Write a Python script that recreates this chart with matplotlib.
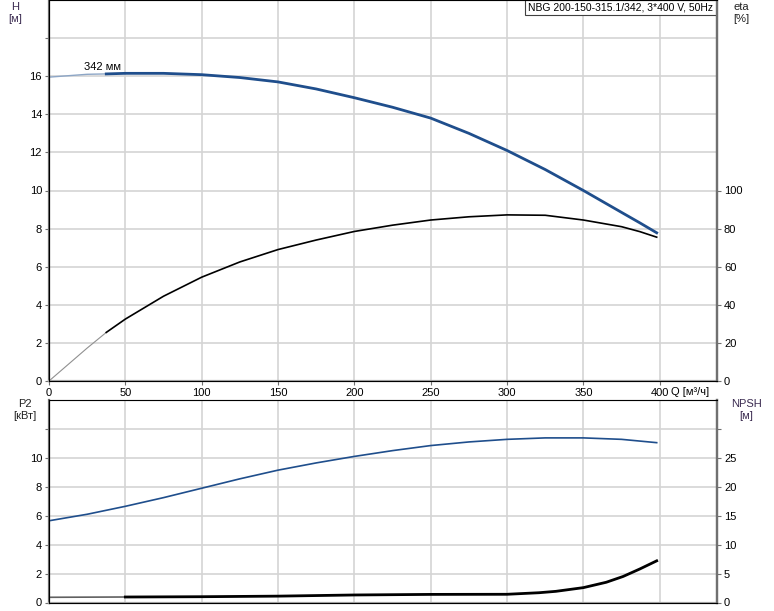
import matplotlib
matplotlib.use('Agg')
from matplotlib import pyplot as plt

plt.rcParams['font.family'] = ['Liberation Sans', 'DejaVu Sans']
plt.rcParams['font.size'] = 8

# data
q_h = [0, 25, 37.5, 50, 75, 100, 125, 150, 175, 200, 225, 250, 275, 300, 325, 350, 375, 387, 398]
head = [15.95, 16.1, 16.12, 16.15, 16.15, 16.08, 15.93, 15.7, 15.33, 14.87, 14.37, 13.8, 13.0, 12.1, 11.1, 10.0, 8.85, 8.3, 7.78]
eta = [0, 17.3, 25.5, 32.5, 44.5, 54.5, 62.5, 69, 74, 78.5, 81.8, 84.5, 86.2, 87.2, 87.0, 84.5, 81.0, 78.4, 75.5]
q_p = [0, 25, 50, 75, 100, 125, 150, 175, 200, 225, 250, 275, 300, 325, 350, 375, 398]
p2 = [5.65, 6.1, 6.65, 7.25, 7.9, 8.55, 9.15, 9.65, 10.1, 10.5, 10.85, 11.1, 11.28, 11.38, 11.38, 11.28, 11.05]
q_npsh = [0, 50, 100, 150, 200, 250, 300, 321, 332, 350, 365, 376, 387, 398]
npsh = [0.9, 0.95, 1.0, 1.1, 1.3, 1.4, 1.42, 1.69, 1.93, 2.57, 3.5, 4.5, 5.8, 7.2]

q_ticks = [0, 50, 100, 150, 200, 250, 300, 350, 400]
blue = '#1f4e8c'
grid_c = '#d4d4d4'
lbl_c = '#3a2a50'

fig = plt.figure(figsize=(7.74, 6.11), dpi=100)
ax1 = fig.add_axes([49/774, 1 - 381/611, 668/774, 381/611])
ax3 = fig.add_axes([49/774, 8.5/611, 668/774, 202.5/611])

def style(ax):
    ax.set_xlim(0, 437.5)
    ax.set_xticks(q_ticks)
    ax.grid(True, color=grid_c, linewidth=1.2)
    ax.set_axisbelow(True)
    ax.spines['left'].set_color('#707070')
    ax.spines['left'].set_linewidth(1.6)
    ax.spines['right'].set_color('#707070')
    ax.spines['right'].set_linewidth(1.6)
    ax.spines['bottom'].set_color('#a8a8a8')
    ax.spines['bottom'].set_linewidth(1.6)
    ax.spines['top'].set_color('#a8a8a8')
    ax.tick_params(length=3, width=0.8, color='#707070', pad=2)

# ---- top: head and efficiency ----
style(ax1)
ax1.set_ylim(0, 20)
ax1.set_yticks(range(0, 20, 2))
ax1.set_yticklabels([str(v) if v <= 16 else '' for v in range(0, 20, 2)])
ax1.plot(q_h[:3], head[:3], color='#8da6c6', linewidth=1.0)
ax1.plot(q_h[2:], head[2:], color=blue, linewidth=2.0)
ax1.text(23, 16.3, '342 мм', fontsize=8)

ax2 = ax1.twinx()
ax2.set_ylim(0, 200)
ax2.set_yticks(range(0, 101, 20))
ax2.spines['right'].set_color('#707070')
ax2.spines['right'].set_linewidth(1.6)
ax2.tick_params(length=3, width=0.8, color='#707070', pad=2)
ax2.plot(q_h[:3], eta[:3], color='#909090', linewidth=0.8)
ax2.plot(q_h[2:], eta[2:], color='black', linewidth=1.2)

fig.text(15/774, 1 - 2/611, 'H\n[м]', ha='center', va='top', color=lbl_c, fontsize=8)
fig.text(741/774, 1 - 2/611, 'eta\n[%]', ha='center', va='top', color='#222222', fontsize=8)
fig.text(690/774, 1 - 392/611, 'Q [м³/ч]', ha='center', va='center', fontsize=8)
ax1.text(0.994, 0.994, 'NBG 200-150-315.1/342, 3*400 V, 50Hz', transform=ax1.transAxes,
         ha='right', va='top', fontsize=7.5,
         bbox=dict(boxstyle='square,pad=0.25', facecolor='white', edgecolor='#404040', linewidth=0.8))

# ---- bottom: power and NPSH ----
style(ax3)
ax3.set_xticklabels([])
ax3.tick_params(axis='x', length=0)
ax3.set_ylim(0, 14)
ax3.set_yticks(range(0, 14, 2))
ax3.set_yticklabels([str(v) if v <= 10 else '' for v in range(0, 14, 2)])
ax3.plot(q_p, p2, color=blue, linewidth=1.2)

ax4 = ax3.twinx()
ax4.set_ylim(0, 35)
ax4.set_yticks(range(0, 31, 5))
ax4.set_yticklabels([str(v) if v <= 25 else '' for v in range(0, 31, 5)])
ax4.spines['right'].set_color('#707070')
ax4.spines['right'].set_linewidth(1.6)
ax4.tick_params(length=3, width=0.8, color='#707070', pad=2)
ax4.plot(q_npsh[:2], npsh[:2], color='#606060', linewidth=1.2)
ax4.plot(q_npsh[1:], npsh[1:], color='black', linewidth=2.0)

fig.text(25/774, 1 - 399/611, 'P2\n[кВт]', ha='center', va='top', color='#222222', fontsize=8)
fig.text(746/774, 1 - 399/611, 'NPSH\n[м]', ha='center', va='top', color=lbl_c, fontsize=8)

fig.savefig('out.png', dpi=100)
